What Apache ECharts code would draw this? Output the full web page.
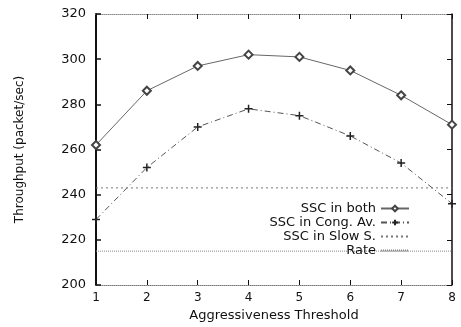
<!DOCTYPE html>
<html><head><meta charset="utf-8">
<script src="https://cdn.jsdelivr.net/npm/echarts@6/dist/echarts.min.js"></script>
<style>html,body{margin:0;padding:0;background:#fff}#c{width:461px;height:327px}</style>
</head><body><div id="c"></div>
<script>
var thresholds = [1, 2, 3, 4, 5, 6, 7, 8];
var sscBoth = [262, 286, 297, 302, 301, 295, 284, 271];
var sscCong = [229, 252, 270, 278, 275, 266, 254, 236];
var sscSlow = [243, 243, 243, 243, 243, 243, 243, 243];
var rate = [215, 215, 215, 215, 215, 215, 215, 215];
var yTicks = [200, 220, 240, 260, 280, 300, 320];
var seriesNames = ['SSC in both', 'SSC in Cong. Av.', 'SSC in Slow S.', 'Rate'];

function pairs(v) { return thresholds.map(function (x, i) { return [x, v[i]]; }); }
var font = 'DejaVu Sans, sans-serif';
var chart = echarts.init(document.getElementById('c'));
var plus = 'path://M0,5L10,5M5,0L5,10';
chart.setOption({
  animation: false,
  grid: { left: 96, right: 9, top: 14, bottom: 42 },
  legend: {
    orient: 'vertical', right: 46, top: 197, align: 'right',
    itemGap: 1, itemWidth: 28, itemHeight: 7,
    textStyle: { fontFamily: font, fontSize: 13, color: '#111', width: 124, align: 'right', padding: [0,0,0,0] },
    data: [
      { name: seriesNames[0] },
      { name: seriesNames[1] },
      { name: seriesNames[2], itemStyle: { opacity: 0 } },
      { name: seriesNames[3], itemStyle: { opacity: 0 } }
    ]
  },
  xAxis: [{
    type: 'value', min: 1, max: 8, interval: 1,
    name: 'Aggressiveness Threshold', nameLocation: 'middle', nameGap: 21,
    nameTextStyle: { fontFamily: font, fontSize: 13, color: '#111' },
    axisLine: { show: true, lineStyle: { color: '#777', type: 'dotted', width: 1 } },
    axisTick: { show: true, inside: true, length: 5, lineStyle: { color: '#111' } },
    axisLabel: { fontFamily: font, fontSize: 12, color: '#111', margin: 7 },
    splitLine: { show: false }
  }, {
    type: 'value', min: 1, max: 8, interval: 1, position: 'top',
    axisLine: { show: true, lineStyle: { color: '#888', type: 'dotted', width: 1 } },
    axisTick: { show: true, inside: true, length: 5, lineStyle: { color: '#111' } },
    axisLabel: { show: false }, splitLine: { show: false }
  }],
  yAxis: [{
    type: 'value', min: 200, max: 320, interval: 20,
    name: 'Throughput (packet/sec)', nameLocation: 'middle', nameGap: 70, nameRotate: 90,
    nameTextStyle: { fontFamily: font, fontSize: 12, color: '#111' },
    axisLine: { show: true, lineStyle: { color: '#111', width: 2 } },
    axisTick: { show: true, inside: true, length: 5, lineStyle: { color: '#111', width: 1.5 } },
    axisLabel: { fontFamily: font, fontSize: 13, color: '#111', margin: 10,
      formatter: function (v) { return yTicks.indexOf(v) >= 0 ? String(v) : ''; } },
    splitLine: { show: false }
  }, {
    type: 'value', min: 200, max: 320, interval: 20, position: 'right',
    axisLine: { show: true, lineStyle: { color: '#111', width: 1.5 } },
    axisTick: { show: true, inside: true, length: 5, lineStyle: { color: '#111' } },
    axisLabel: { show: false }, splitLine: { show: false }
  }],
  series: [{
    name: seriesNames[0], type: 'line', data: pairs(sscBoth),
    symbol: 'emptyDiamond', symbolSize: 8,
    lineStyle: { color: '#666', width: 1 },
    itemStyle: { color: '#444', borderColor: '#444', borderWidth: 1 }
  }, {
    name: seriesNames[1], type: 'line', data: pairs(sscCong),
    symbol: plus, symbolSize: 8,
    lineStyle: { color: '#555', width: 1, type: [6, 3, 1, 3] },
    itemStyle: { color: 'none', borderColor: '#222', borderWidth: 1.5 }
  }, {
    name: seriesNames[2], type: 'line', data: pairs(sscSlow),
    symbol: 'none', showSymbol: false,
    lineStyle: { color: '#777', width: 1, type: [2, 3] },
    itemStyle: { color: '#777' }
  }, {
    name: seriesNames[3], type: 'line', data: pairs(rate),
    symbol: 'none', showSymbol: false,
    lineStyle: { color: '#888', width: 1, type: [1, 1] },
    itemStyle: { color: '#888' }
  }]
});
</script></body></html>
